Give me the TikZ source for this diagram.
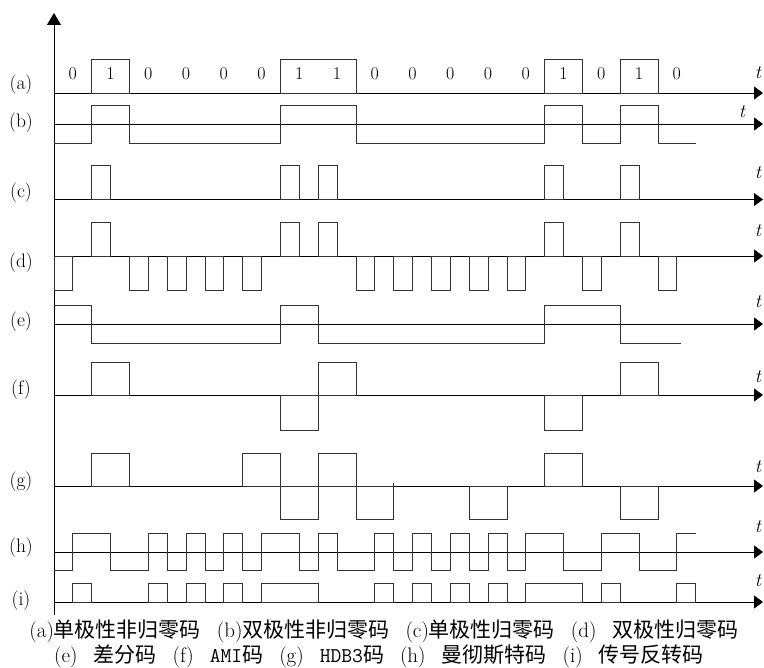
\documentclass[tikz,border=0pt]{standalone}
\usepackage{fontspec}
\newfontfamily\cjk{Noto Sans CJK SC}
\usetikzlibrary{arrows.meta}
\begin{document}
\begin{tikzpicture}[x=1pt,y=-1pt,
  axis/.style={line width=0.9pt, black, -{Triangle[length=9pt,width=13pt]}},
  vaxis/.style={line width=0.9pt, black, -{Triangle[length=12pt,width=14pt]}},
  sig/.style={line width=0.8pt, black!80},
  lbl/.style={inner sep=0pt, font=\fontsize{19.5}{19.5}\selectfont},
  digit/.style={inner sep=0pt, font=\fontsize{18}{18}\selectfont},
  tlbl/.style={inner sep=0pt, font=\fontsize{19}{19}\selectfont\itshape},
  captext/.style={inner sep=0pt, font=\fontsize{21}{21}\selectfont}]
\useasboundingbox (0,0) rectangle (764,668);

% vertical axis
\coordinate (v0) at (54,615);
\coordinate (v1) at (54,13);
\draw[vaxis] (v0) -- (v1);

% horizontal axes
\foreach \yy/\nm in {93/a,124/b,199.5/c,256/d,324/e,395/f,486/g,552/h,602/i}{
  \coordinate (s\nm) at (54,\yy);
  \coordinate (e\nm) at (763,\yy);
  \draw[axis] (s\nm) -- (e\nm);
}

% row labels
\foreach \yy/\nm in {85/a,123/b,193/c,263/d,322/e,390/f,482/g,548/h,601/i}
  \node[lbl] (lab\nm) at (21,\yy) {(\nm)};

% t labels
\foreach \xx/\yy/\nm in {758/73/a,742/112/b,758/173/c,758/231/d,758/302/e,758/377/f,758/467/g,758/527/h,758/581/i}
  \node[tlbl] (t\nm) at (\xx,\yy) {t};

% bit digits
\foreach \b [count=\i from 0] in {0,1,0,0,0,0,1,1,0,0,0,0,0,1,0,1,0}
  \node[digit] (bit\i) at ({54+(\i+0.5)*37.75},74) {\b};

\begin{scope}[xshift=54pt, x=37.75pt]
  % (a) unipolar NRZ
  \foreach \p/\q in {1/2,6/8,13/14,15/16}
    \draw[sig] (\p,93) rectangle (\q,59.5);
  % (b) bipolar NRZ
  \draw[sig] (0,143) -| (1,105) -| (2,143) -| (6,105) -| (8,143) -| (13,105)
     -| (14,143) -| (15,105) -| (16,143) -- (17,143);
  % (c) unipolar RZ
  \foreach \p in {1,6,7,13,15}
    \draw[sig] (\p,199.5) rectangle (\p+0.5,165);
  % (d) bipolar RZ
  \foreach \p in {1,6,7,13,15}
    \draw[sig] (\p,256) rectangle (\p+0.5,222);
  \foreach \p in {0,2,3,4,5,8,9,10,11,12,14,16}
    \draw[sig] (\p,256) rectangle (\p+0.5,290);
  % (e) differential
  \draw[sig] (0,305) -| (1,343) -| (6,305) -| (7,343) -| (13,305) -| (15,343) -- (16.6,343);
  % (f) AMI
  \foreach \p in {1,7,15}
    \draw[sig] (\p,395) rectangle (\p+1,362);
  \foreach \p in {6,13}
    \draw[sig] (\p,395) rectangle (\p+1,430);
  % (g) HDB3
  \foreach \p in {1,5,7,13}
    \draw[sig] (\p,486) rectangle (\p+1,453);
  \foreach \p in {6,8,11,15}
    \draw[sig] (\p,486) rectangle (\p+1,519);
  \draw[sig] (9,486) -- (9,483);
\end{scope}

\begin{scope}[xshift=54pt, x=18.875pt]
  % (h) Manchester
  \draw[sig] (0,570) -| (1,533) -| (3,570) -| (5,533) -| (6,570) -| (7,533) -| (8,570)
    -| (9,533) -| (10,570) -| (11,533) -| (13,570) -| (14,533) -| (15,570) -| (17,533)
    -| (18,570) -| (19,533) -| (20,570) -| (21,533) -| (22,570) -| (23,533) -| (24,570)
    -| (25,533) -| (27,570) -| (29,533) -| (31,570) -| (33,533) -- (34,533);
  % (i) CMI
  \foreach \p/\q in {1/2,5/6,7/8,9/10,11/14,17/18,19/20,21/22,23/24,25/28,29/30,33/34}
    \draw[sig] (\p,602) rectangle (\q,583);
\end{scope}

% caption
\node[captext] (cap1) at (384,631) {(a){\cjk 单极性非归零码}\hspace{16pt}(b){\cjk 双极性非归零码}\hspace{16pt}(c){\cjk 单极性归零码}\hspace{16pt}(d)\hspace{16pt}{\cjk 双极性归零码}};
\node[captext] (cap2) at (379,656) {(e)\hspace{16pt}{\cjk 差分码}\hspace{16pt}(f)\hspace{16pt}\texttt{AMI}{\cjk 码}\hspace{16pt}(g)\hspace{16pt}\texttt{HDB3}{\cjk 码}\hspace{16pt}(h)\hspace{16pt}{\cjk 曼彻斯特码}\hspace{16pt}(i)\hspace{16pt}{\cjk 传号反转码}};
\end{tikzpicture}
\end{document}
